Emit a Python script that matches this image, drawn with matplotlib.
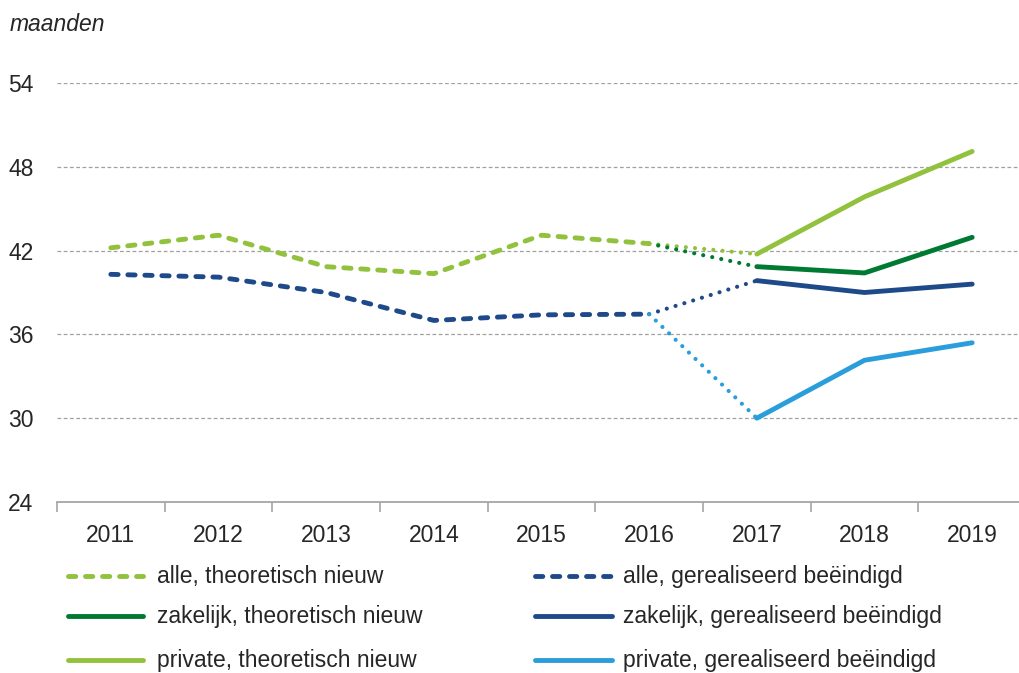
import matplotlib
matplotlib.use("Agg")
import matplotlib.pyplot as plt
from matplotlib.lines import Line2D
import numpy as np

# ---- data ----
years = ["2011", "2012", "2013", "2014", "2015", "2016", "2017", "2018", "2019"]
alle_theo = [42.2, 43.1, 40.85, 40.35, 43.1, 42.5, None, None, None]
zak_theo = [None, None, None, None, None, None, 40.85, 40.4, 42.95]
priv_theo = [None, None, None, None, None, None, 41.75, 45.85, 49.1]
alle_real = [40.3, 40.1, 39.0, 37.0, 37.4, 37.45, None, None, None]
zak_real = [None, None, None, None, None, None, 39.85, 39.0, 39.6]
priv_real = [None, None, None, None, None, None, 30.0, 34.15, 35.4]
yticks = [24, 30, 36, 42, 48, 54]
labels = ["alle, theoretisch nieuw", "alle, gerealiseerd beëindigd",
          "zakelijk, theoretisch nieuw", "zakelijk, gerealiseerd beëindigd",
          "private, theoretisch nieuw", "private, gerealiseerd beëindigd"]

LGREEN = "#92C13E"
DGREEN = "#007A33"
DBLUE = "#1F4A8A"
LBLUE = "#2A9DDB"

plt.rcParams['font.family'] = ['Liberation Sans Narrow', 'Liberation Sans', 'DejaVu Sans']
FS = 16.5

W, H = 1019, 673
fig = plt.figure(figsize=(W / 100, H / 100), dpi=100)
x0, x1, ytop, ybot = 57, 1026, 83, 502
ax = fig.add_axes([x0 / W, (H - ybot) / H, (x1 - x0) / W, (ybot - ytop) / H])

x = np.arange(len(years))
LW = 3.5
dash = (0, (1.5, 2.0))
dot = (0, (0.01, 2.2))


def arr(v):
    return np.array([np.nan if a is None else a for a in v], dtype=float)


styles = {
    "alle_theo": dict(color=LGREEN, lw=LW, linestyle=dash, dash_capstyle="round"),
    "alle_real": dict(color=DBLUE, lw=LW, linestyle=dash, dash_capstyle="round"),
    "zak_theo": dict(color=DGREEN, lw=LW, solid_capstyle="round"),
    "zak_real": dict(color=DBLUE, lw=LW, solid_capstyle="round"),
    "priv_theo": dict(color=LGREEN, lw=LW, solid_capstyle="round"),
    "priv_real": dict(color=LBLUE, lw=LW, solid_capstyle="round"),
}

# dotted connectors from last "alle" value to the first value of each sub-series
def connector(base, sub, color):
    b = arr(base)
    s = arr(sub)
    i = int(np.where(~np.isnan(b))[0][-1])
    j = int(np.where(~np.isnan(s))[0][0])
    ax.plot([x[i], x[j]], [b[i], s[j]], color=color, lw=3.0, linestyle=dot,
            dash_capstyle="round", zorder=3)

connector(alle_theo, priv_theo, LGREEN)
connector(alle_theo, zak_theo, DGREEN)
connector(alle_real, zak_real, DBLUE)
connector(alle_real, priv_real, LBLUE)

ax.plot(x, arr(alle_theo), zorder=4, **styles["alle_theo"])
ax.plot(x, arr(alle_real), zorder=4, **styles["alle_real"])
ax.plot(x, arr(zak_theo), zorder=4, **styles["zak_theo"])
ax.plot(x, arr(zak_real), zorder=4, **styles["zak_real"])
ax.plot(x, arr(priv_theo), zorder=4, **styles["priv_theo"])
ax.plot(x, arr(priv_real), zorder=4, **styles["priv_real"])

ax.set_xlim(-0.5, len(years) - 0.5)
ax.set_ylim(yticks[0], yticks[-1])

for s in ["top", "right", "left"]:
    ax.spines[s].set_visible(False)
ax.spines["bottom"].set_color("#A6A6A6")
ax.spines["bottom"].set_linewidth(1.3)

ax.set_yticks(yticks)
ax.set_yticklabels([str(t) for t in yticks], fontsize=FS, color="#262626")
ax.tick_params(axis="y", length=0, pad=17)
for t in yticks[1:]:
    ax.axhline(t, color="#A0A0A0", lw=0.9, linestyle=(0, (3, 2)), zorder=1)

ax.set_xticks(np.arange(-0.5, len(years), 1.0))
ax.set_xticklabels([])
ax.tick_params(axis="x", which="major", length=7, width=1.2, color="#A6A6A6")
ax.set_xticks(x, minor=True)
ax.set_xticklabels(years, minor=True, fontsize=FS, color="#262626")
ax.tick_params(axis="x", which="minor", length=0, pad=16)

fig.text(10 / W, 1 - 31 / H, "maanden", fontsize=FS, style="italic",
         color="#262626", va="baseline", ha="left")

# legend (manual, two columns)
rows = [576, 616, 660]
cols = [(68, 143, 157), (535, 612, 623)]
keys = ["alle_theo", "alle_real", "zak_theo", "zak_real", "priv_theo", "priv_real"]
for k, (key, lab) in enumerate(zip(keys, labels)):
    r, c = divmod(k, 2)
    xa, xb, xt = cols[c]
    yy = 1 - rows[r] / H
    st = dict(styles[key])
    fig.add_artist(Line2D([xa / W, xb / W], [yy, yy], transform=fig.transFigure, **st))
    fig.text(xt / W, yy, lab, fontsize=FS, color="#262626", va="center", ha="left")

fig.savefig("out.png", dpi=100)
